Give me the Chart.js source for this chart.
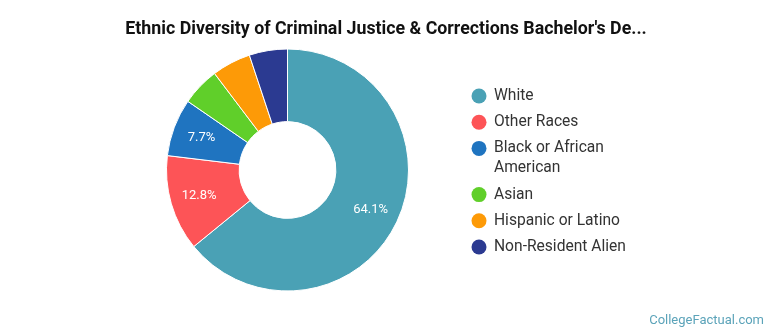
<!DOCTYPE html>
<html>
<head>
<meta charset="utf-8">
<script src="https://cdn.jsdelivr.net/npm/chart.js@4.4.1/dist/chart.umd.min.js"></script>
<style>
  html, body { margin: 0; padding: 0; background: #fff; }
  #wrap { position: relative; width: 770px; height: 335px; }
</style>
</head>
<body>
<div id="wrap"><canvas id="chart" width="770" height="335"></canvas></div>
<script>
// data
const titleText = "Ethnic Diversity of Criminal Justice & Corrections Bachelor's De...";
const categories = ["White", "Other Races", "Black or African American", "Asian", "Hispanic or Latino", "Non-Resident Alien"];
const shares = [64.1, 12.8, 7.7, 5.1, 5.2, 5.1];
const colors = ["#4aa1b5", "#fd5457", "#1f74c0", "#60cf2a", "#fd9a07", "#2b3a91"];
const footerText = "CollegeFactual.com";

const FONT = "Roboto, 'Noto Sans', sans-serif";

// word wrap for legend entries
function wrapText(ctx, text, maxWidth) {
    let words = text.split(' ');
    let lines = [];
    let line = '';
    words.forEach(w => {
        let test = line ? line + ' ' + w : w;
        if (line && ctx.measureText(test).width > maxWidth) {
            lines.push(line);
            line = w;
        } else {
            line = test;
        }
    });
    if (line) lines.push(line);
    return lines;
}

const extrasPlugin = {
    id: 'extras',
    afterDatasetsDraw(chart) {
        const ctx = chart.ctx;
        const meta = chart.getDatasetMeta(0);

        // percent labels inside the bigger slices
        ctx.save();
        ctx.fillStyle = '#fff';
        ctx.font = '13px ' + FONT;
        ctx.textAlign = 'center';
        ctx.textBaseline = 'middle';
        meta.data.forEach((arc, i) => {
            if (shares[i] < 6) return;
            const p = arc.getProps(['x', 'y', 'startAngle', 'endAngle', 'innerRadius', 'outerRadius'], true);
            const mid = (p.startAngle + p.endAngle) / 2;
            const r = p.innerRadius + (p.outerRadius - p.innerRadius) * 0.6;
            ctx.fillText(shares[i].toFixed(1) + '%', p.x + Math.cos(mid) * r, p.y + Math.sin(mid) * r);
        });
        ctx.restore();
    },
    afterDraw(chart) {
        const ctx = chart.ctx;
        ctx.save();

        // title
        ctx.fillStyle = '#111';
        ctx.font = 'bold 17.8px ' + FONT;
        ctx.textAlign = 'center';
        ctx.textBaseline = 'middle';
        ctx.fillText(titleText, 386, 30);

        // legend
        ctx.font = '15.6px ' + FONT;
        ctx.textAlign = 'left';
        let y = 96;
        categories.forEach((name, i) => {
            ctx.fillStyle = colors[i];
            ctx.beginPath();
            ctx.arc(479, y, 7.5, 0, Math.PI * 2);
            ctx.fill();
            ctx.fillStyle = '#333';
            let lines = wrapText(ctx, name, 145);
            lines.forEach((l, j) => {
                ctx.fillText(l, 494, y + j * 20);
            });
            y += (lines.length - 1) * 20 + 26.2;
        });

        // footer
        ctx.fillStyle = '#5ba3b9';
        ctx.font = '13px ' + FONT;
        ctx.textAlign = 'right';
        ctx.fillText(footerText, 764, 321);
        ctx.restore();
    }
};

new Chart(document.getElementById('chart'), {
    type: 'doughnut',
    data: {
        labels: categories,
        datasets: [{
            data: shares,
            backgroundColor: colors,
            borderColor: '#fff',
            borderWidth: 1
        }]
    },
    options: {
        responsive: false,
        animation: false,
        cutout: '40%',
        layout: { padding: { left: 166, right: 361, top: 48, bottom: 43 } },
        plugins: {
            legend: { display: false },
            tooltip: { enabled: false },
            title: { display: false }
        }
    },
    plugins: [extrasPlugin]
});
</script>
</body>
</html>
